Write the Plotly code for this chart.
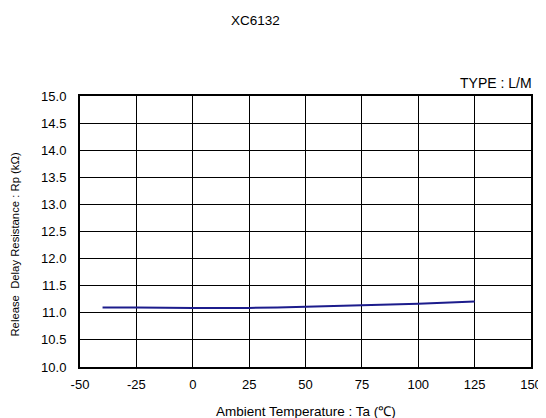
import plotly.graph_objects as go

temperature = [-40, -25, 0, 25, 50, 75, 100, 125]
resistance = [11.10, 11.10, 11.09, 11.09, 11.11, 11.14, 11.165, 11.21]

x_ticks = [-50, -25, 0, 25, 50, 75, 100, 125, 150]
y_ticks = [10.0, 10.5, 11.0, 11.5, 12.0, 12.5, 13.0, 13.5, 14.0, 14.5, 15.0]

FONT = "Liberation Sans, Arial, sans-serif"

fig = go.Figure()
fig.add_trace(go.Scatter(
    x=temperature, y=resistance, mode="lines",
    line=dict(color="#1c1c8c", width=2, shape="spline", smoothing=0.6),
    showlegend=False, hoverinfo="skip",
))

axis_common = dict(
    showgrid=True, gridcolor="black", gridwidth=1,
    showline=True, linecolor="black", linewidth=2, mirror=True,
    ticks="", zeroline=False,
    tickfont=dict(family=FONT, size=13, color="black"),
)

fig.update_xaxes(range=[-50, 150], tickvals=x_ticks,
                 ticktext=[str(v) for v in x_ticks], ticklabelstandoff=4,
                 **axis_common)
fig.update_yaxes(range=[10, 15], tickvals=y_ticks,
                 ticktext=[f"{v:.1f}" for v in y_ticks], ticklabelstandoff=9,
                 **axis_common)

fig.update_layout(
    width=546, height=418,
    margin=dict(l=72, r=19, t=88, b=59),
    paper_bgcolor="white", plot_bgcolor="white",
    font=dict(family=FONT, color="black", size=11),
    annotations=[
        dict(text="XC6132", xref="paper", yref="paper", x=0.389, y=1.28,
             xanchor="center", yanchor="middle", showarrow=False,
             font=dict(size=13.5, family=FONT)),
        dict(text="TYPE : L/M", xref="paper", yref="paper", x=1.007, y=1.048,
             xanchor="right", yanchor="middle", showarrow=False,
             font=dict(size=14, family=FONT)),
        dict(text="Ambient Temperature : Ta (℃)", xref="paper", yref="paper",
             x=0.5, y=-0.166, xanchor="center", yanchor="middle", showarrow=False,
             font=dict(size=13.5, family=FONT)),
        dict(text="Release  Delay Resistance : Rp (kΩ)", xref="paper", yref="paper",
             x=-0.143, y=0.45, xanchor="center", yanchor="middle", showarrow=False,
             textangle=-90, font=dict(size=11.3, family=FONT)),
    ],
)

fig.write_html("out.html")
